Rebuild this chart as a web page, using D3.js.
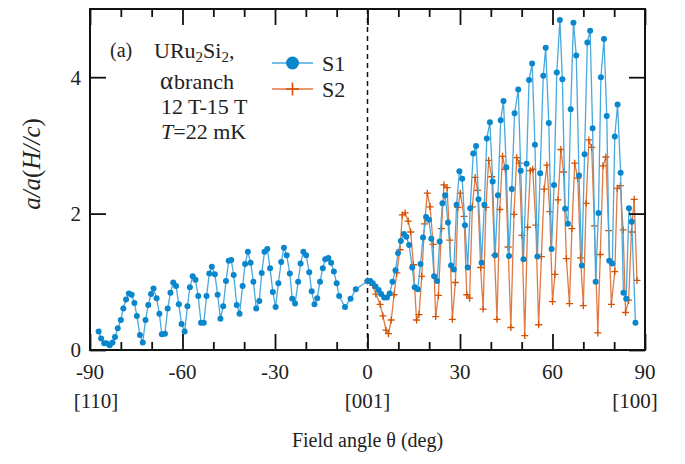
<!DOCTYPE html>
<html>
<head>
<meta charset="utf-8">
<script src="https://cdn.jsdelivr.net/npm/d3@7"></script>
<style>
  body { margin: 0; background: #fff; }
  svg text { font-family: "Liberation Serif", "Times New Roman", serif; fill: #222; }
</style>
</head>
<body>
<div id="chart"></div>
<script>
// S1 (blue, circles)
const s1Angle = [-87.2, -86.4, -85.4, -84.6, -83.6, -82.7, -81.9, -81.0, -80.0, -79.2,
  -78.3, -77.4, -76.5, -75.6, -74.8, -73.8, -72.9, -72.0, -71.1, -70.2,
  -69.4, -68.4, -67.5, -66.7, -65.7, -64.8, -63.9, -63.0, -62.1, -61.2,
  -60.3, -59.3, -58.4, -57.6, -56.7, -55.8, -54.9, -54.0, -53.1, -52.2,
  -51.3, -50.5, -49.5, -48.6, -47.7, -46.8, -45.9, -45.0, -44.2, -43.4,
  -42.4, -41.5, -40.5, -39.7, -38.8, -37.9, -37.0, -36.1, -35.1, -34.3,
  -33.4, -32.5, -31.6, -30.7, -29.8, -28.9, -28.0, -27.1, -26.2, -25.2,
  -24.4, -23.5, -22.5, -21.7, -20.8, -19.9, -18.9, -18.1, -17.2, -16.3,
  -15.4, -14.5, -13.7, -12.7, -11.8, -10.9, -10.0, -9.2, -7.3, -5.5,
  -3.8, 0.0,
  0.9, 1.7, 2.6, 3.6, 4.4, 5.4, 6.3, 7.2, 8.1, 9.1,
  9.9, 10.8, 11.8, 12.6, 13.5, 14.5, 15.3, 16.3, 17.2, 18.0,
  19.0, 19.9, 20.7, 21.6, 22.6, 23.4, 24.3, 25.2, 26.1, 27.1,
  28.0, 28.9, 29.8, 30.7, 31.6, 32.5, 33.3, 34.3, 35.2, 36.0,
  37.0, 37.9, 38.7, 39.7, 40.6, 41.4, 42.3, 43.2, 44.1, 45.0,
  45.9, 46.8, 47.7, 48.9, 49.7, 50.6, 51.6, 52.4, 53.4, 54.3,
  55.1, 56.0, 57.0, 57.8, 58.8, 59.7, 60.5, 61.4, 62.4, 63.2,
  64.1, 65.0, 65.9, 66.8, 67.7, 68.6, 69.5, 70.4, 71.3, 72.2,
  73.0, 74.0, 74.9, 75.7, 76.7, 77.6, 78.4, 79.4, 80.2, 81.1,
  82.1, 83.0, 83.9, 84.8, 85.7, 86.9];
const s1Value = [0.27, 0.17, 0.10, 0.10, 0.07, 0.11, 0.19, 0.32, 0.44, 0.61,
  0.74, 0.83, 0.81, 0.69, 0.50, 0.22, 0.11, 0.44, 0.66, 0.82,
  0.90, 0.76, 0.53, 0.23, 0.24, 0.61, 0.84, 0.99, 0.94, 0.67,
  0.38, 0.27, 0.64, 0.92, 1.08, 1.03, 0.79, 0.40, 0.40, 0.79,
  1.12, 1.22, 1.11, 0.81, 0.46, 0.64, 1.01, 1.31, 1.32, 1.10,
  0.66, 0.53, 0.94, 1.26, 1.44, 1.28, 1.00, 0.61, 0.72, 1.13,
  1.44, 1.48, 1.20, 0.85, 0.63, 0.98, 1.29, 1.50, 1.39, 1.12,
  0.75, 0.68, 1.00, 1.27, 1.44, 1.39, 1.14, 0.86, 0.67, 0.76,
  1.00, 1.20, 1.33, 1.35, 1.28, 1.15, 0.98, 0.79, 0.63, 0.75,
  0.89, 1.01,
  1.01, 0.98, 0.93, 0.88, 0.82, 0.77, 0.77, 0.83, 1.00, 1.17,
  1.42, 1.60, 1.70, 1.66, 1.54, 1.21, 0.92, 0.89, 1.26, 1.65,
  1.95, 1.91, 1.63, 1.08, 1.01, 1.59, 2.15, 2.27, 1.87, 1.24,
  1.18, 2.13, 2.62, 2.51, 1.83, 1.21, 2.08, 2.88, 2.99, 2.21,
  1.28, 2.13, 3.10, 3.34, 2.47, 1.39, 2.27, 3.37, 3.65, 2.68,
  1.38, 2.36, 3.47, 3.82, 2.63, 1.33, 2.73, 3.96, 4.20, 3.01,
  1.37, 2.59, 4.02, 4.43, 3.33, 1.48, 2.42, 4.07, 4.84, 3.97,
  2.07, 1.85, 3.53, 4.80, 4.32, 2.56, 1.24, 2.87, 4.51, 4.68,
  3.25, 1.00, 2.01, 4.00, 4.56, 3.43, 1.31, 1.27, 3.13, 3.60,
  2.60, 0.84, 0.75, 2.08, 1.88, 0.40];

// S2 (orange, crosses)
const s2Angle = [0.0, 0.9, 1.7, 2.7, 4.1, 5.0, 6.0, 6.8, 7.7, 8.6,
  9.5, 10.5, 11.3, 12.2, 13.2, 14.0, 14.9, 15.9, 16.7, 17.6,
  18.5, 19.4, 20.3, 21.3, 22.1, 23.0, 24.0, 24.8, 25.8, 26.7,
  27.5, 28.5, 29.3, 30.1, 31.3, 32.2, 33.1, 34.0, 34.9, 35.7,
  36.7, 37.5, 38.4, 39.3, 40.3, 41.2, 42.0, 42.9, 43.8, 44.7,
  45.6, 46.5, 47.5, 48.4, 49.2, 50.1, 51.0, 51.9, 52.8, 53.6,
  54.6, 55.5, 56.4, 57.3, 58.2, 59.1, 60.0, 60.8, 61.8, 62.7,
  63.6, 64.5, 65.5, 66.3, 67.2, 68.2, 69.1, 70.0, 70.9, 71.8,
  72.7, 73.6, 74.7, 75.5, 76.4, 77.3, 78.2, 79.1, 80.2, 81.0,
  82.0, 82.9, 83.7, 84.7, 85.6, 86.5, 87.4];
const s2Value = [1.01, 0.99, 0.95, 0.82, 0.67, 0.50, 0.29, 0.24, 0.44, 0.81,
  1.13, 1.47, 1.98, 2.01, 1.89, 1.73, 1.25, 0.44, 0.52, 1.08,
  1.85, 2.30, 2.10, 1.55, 0.49, 0.80, 1.78, 2.42, 2.38, 1.61,
  0.45, 0.99, 2.09, 2.30, 1.96, 0.81, 0.76, 2.10, 2.53, 2.34,
  1.21, 0.60, 2.09, 2.78, 2.54, 1.39, 0.45, 2.06, 2.84, 2.65,
  1.51, 0.33, 1.99, 2.82, 2.74, 1.68, 0.21, 1.80, 2.63, 2.65,
  1.83, 0.37, 1.37, 2.36, 2.71, 2.03, 0.71, 1.11, 2.20, 2.94,
  2.61, 1.34, 0.68, 1.78, 2.74, 2.52, 1.35, 0.65, 2.15, 3.08,
  2.97, 1.82, 0.25, 1.40, 2.70, 2.83, 1.75, 0.67, 1.15, 2.37,
  2.41, 1.76, 0.55, 0.73, 1.73, 2.21, 1.02];

const xTicks = [-90, -60, -30, 0, 30, 60, 90];
const xDirLabels = [[-90, "[110]"], [0, "[001]"], [90, "[100]"]];
const yTicks = [0, 2, 4];

const blue = "#0a86cc", blueLine = "#49a9dd";
const orange = "#d45200", orangeLine = "#e07a45";

const width = 685, height = 464;
const plot = { left: 90, right: 645, top: 9, bottom: 350 };

const svg = d3.select("#chart").append("svg")
    .attr("width", width)
    .attr("height", height);

const x = d3.scaleLinear().domain([-90, 90]).range([plot.left, plot.right]);
const y = d3.scaleLinear().domain([0, 5]).range([plot.bottom, plot.top]);

const s1 = s1Angle.map((a, i) => ({ a: a, v: s1Value[i] }));
const s2 = s2Angle.map((a, i) => ({ a: a, v: s2Value[i] }));

// dashed line at 0 deg
svg.append("line")
    .attr("x1", x(0)).attr("x2", x(0))
    .attr("y1", plot.top).attr("y2", plot.bottom)
    .attr("stroke", "#111")
    .attr("stroke-width", 1.5)
    .attr("stroke-dasharray", "5,4");

const line = d3.line().x(d => x(d.a)).y(d => y(d.v));

svg.append("path").datum(s2)
    .attr("d", line)
    .attr("fill", "none")
    .attr("stroke", orangeLine)
    .attr("stroke-width", 1.3);

svg.append("g").selectAll("path")
    .data(s2)
    .join("path")
    .attr("d", d => `M${x(d.a) - 3.5},${y(d.v)}h7M${x(d.a)},${y(d.v) - 3.5}v7`)
    .attr("stroke", orange)
    .attr("stroke-width", 1.3);

svg.append("path").datum(s1)
    .attr("d", line)
    .attr("fill", "none")
    .attr("stroke", blueLine)
    .attr("stroke-width", 1.3);

svg.append("g").selectAll("circle")
    .data(s1)
    .join("circle")
    .attr("cx", d => x(d.a))
    .attr("cy", d => y(d.v))
    .attr("r", 3)
    .attr("fill", blue);

// axes: ticks pointing inward, on all four sides
const xMinor = d3.range(-90, 91, 10);
const tickLen = d => (d % 30 === 0 ? 16 : 8);

svg.append("g")
    .attr("transform", `translate(0,${plot.bottom})`)
    .call(d3.axisBottom(x).tickValues(xMinor).tickSizeInner(0).tickSizeOuter(0).tickFormat(""))
    .call(g => g.select(".domain").remove())
    .call(g => g.selectAll(".tick line").attr("y2", d => -tickLen(d)).attr("stroke", "#111").attr("stroke-width", 1.8));

svg.append("g")
    .attr("transform", `translate(0,${plot.top})`)
    .call(d3.axisTop(x).tickValues(xMinor).tickSizeInner(0).tickSizeOuter(0).tickFormat(""))
    .call(g => g.select(".domain").remove())
    .call(g => g.selectAll(".tick line").attr("y2", d => tickLen(d)).attr("stroke", "#111").attr("stroke-width", 1.8));

svg.append("g")
    .attr("transform", `translate(${plot.left},0)`)
    .call(d3.axisLeft(y).tickValues(yTicks).tickSizeInner(-16).tickSizeOuter(0).tickFormat(""))
    .call(g => g.select(".domain").remove())
    .call(g => g.selectAll(".tick line").attr("stroke", "#111").attr("stroke-width", 1.8));

svg.append("g")
    .attr("transform", `translate(${plot.right},0)`)
    .call(d3.axisRight(y).tickValues(yTicks).tickSizeInner(-16).tickSizeOuter(0).tickFormat(""))
    .call(g => g.select(".domain").remove())
    .call(g => g.selectAll(".tick line").attr("stroke", "#111").attr("stroke-width", 1.8));

// frame
svg.append("rect")
    .attr("x", plot.left).attr("y", plot.top)
    .attr("width", plot.right - plot.left)
    .attr("height", plot.bottom - plot.top)
    .attr("fill", "none")
    .attr("stroke", "#111")
    .attr("stroke-width", 2);

// y tick labels
svg.append("g").selectAll("text")
    .data(yTicks)
    .join("text")
    .attr("x", 81)
    .attr("y", d => y(d))
    .attr("dy", "0.35em")
    .attr("text-anchor", "end")
    .attr("font-size", 21)
    .text(d => d);

// x tick labels
svg.append("g").selectAll("text")
    .data(xTicks)
    .join("text")
    .attr("x", d => x(d))
    .attr("y", 379)
    .attr("text-anchor", "middle")
    .attr("font-size", 21)
    .text(d => d);

svg.append("g").selectAll("text")
    .data(xDirLabels)
    .join("text")
    .attr("x", d => x(d[0]) + (d[0] < 0 ? 6 : d[0] > 0 ? -10 : 0))
    .attr("y", 408)
    .attr("text-anchor", "middle")
    .attr("font-size", 21)
    .text(d => d[1]);

svg.append("text")
    .attr("x", x(0))
    .attr("y", 447)
    .attr("text-anchor", "middle")
    .attr("font-size", 20)
    .text("Field angle θ (deg)");

// y label: a/a(H//c)
const yl = svg.append("text")
    .attr("transform", "translate(40,164) rotate(-90)")
    .attr("text-anchor", "middle")
    .attr("font-size", 25);
yl.append("tspan").attr("font-style", "italic").text("a/a");
yl.append("tspan").text("(");
yl.append("tspan").attr("font-style", "italic").text("H//c");
yl.append("tspan").text(")");

// annotation
svg.append("text").attr("x", 110).attr("y", 57).attr("font-size", 20).text("(a)");
const t1 = svg.append("text").attr("x", 154).attr("y", 58).attr("font-size", 22);
t1.append("tspan").text("URu");
t1.append("tspan").attr("font-size", 15).attr("dy", 4).text("2");
t1.append("tspan").attr("dy", -4).text("Si");
t1.append("tspan").attr("font-size", 15).attr("dy", 4).text("2");
t1.append("tspan").attr("dy", -4).text(",");

const t2 = svg.append("text").attr("x", 160).attr("y", 89).attr("font-size", 22);
t2.append("tspan").attr("font-size", 25).text("\u03b1");
t2.append("tspan").attr("dx", 1).text("branch");
svg.append("text").attr("x", 161).attr("y", 114).attr("font-size", 22).text("12 T-15 T");
const t4 = svg.append("text").attr("x", 161).attr("y", 139).attr("font-size", 22);
t4.append("tspan").attr("font-style", "italic").text("T");
t4.append("tspan").text("=22 mK");

// legend
const legend = [
  { name: "S1", y: 63, color: blue, lineColor: blueLine, mark: "circle" },
  { name: "S2", y: 89, color: orange, lineColor: orangeLine, mark: "plus" }
];
const lg = svg.append("g").selectAll("g").data(legend).join("g");
lg.append("line")
    .attr("x1", 272).attr("x2", 313)
    .attr("y1", d => d.y).attr("y2", d => d.y)
    .attr("stroke", d => d.lineColor)
    .attr("stroke-width", 1.5);
lg.filter(d => d.mark === "circle").append("circle")
    .attr("cx", 292.5).attr("cy", d => d.y).attr("r", 6.5)
    .attr("fill", d => d.color);
lg.filter(d => d.mark === "plus").append("path")
    .attr("d", d => `M286,${d.y}h13M292.5,${d.y - 6.5}v13`)
    .attr("stroke", d => d.color)
    .attr("stroke-width", 1.6);
lg.append("text")
    .attr("x", 322).attr("y", d => d.y + 8)
    .attr("font-size", 22)
    .text(d => d.name);
</script>
</body>
</html>
